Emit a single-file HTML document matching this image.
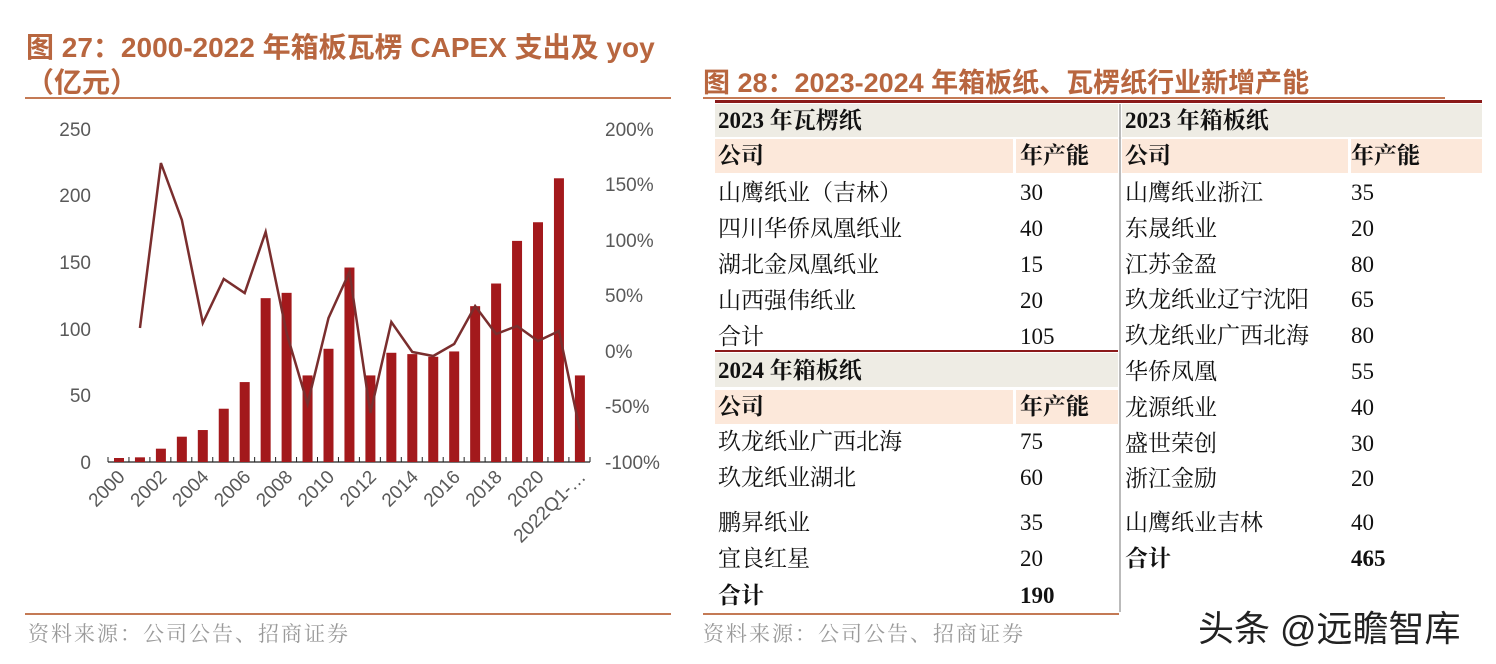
<!DOCTYPE html>
<html><head><meta charset="utf-8"><style>
body{margin:0;width:1496px;height:664px;background:#fff;position:relative;overflow:hidden;font-family:"Liberation Sans","Noto Sans CJK SC",sans-serif}
.a{position:absolute;white-space:nowrap}
.t{color:#b8663f;font-weight:bold;font-size:28px}
.s{font-family:"Liberation Serif","Noto Serif CJK SC",serif;font-size:23px;color:#111;line-height:34px}
.b{font-weight:bold}
.src{color:#9a9a9a;font-size:21px;letter-spacing:2px;font-family:"Liberation Serif","Noto Serif CJK SC",serif}
</style></head><body>
<div class="a t" style="left:26px;top:26px">图 27：2000-2022 年箱板瓦楞 CAPEX 支出及 yoy</div>
<div class="a t" style="left:26px;top:61px">（亿元）</div>
<div class="a" style="left:25px;top:97px;width:646px;height:2px;background:#c47a55"></div>
<div class="a t" style="left:703px;top:61px;font-size:27px">图 28：2023-2024 年箱板纸、瓦楞纸行业新增产能</div>
<div class="a" style="left:703px;top:97px;width:742px;height:2px;background:#c47a55"></div>
<div class="a" style="left:715px;top:100px;width:767px;height:3px;background:#8b1a1a"></div>

<svg class="a" style="left:0;top:0" width="700" height="620">
<g font-family="Liberation Sans,sans-serif" font-size="19" fill="#595959">
<g text-anchor="end">
<text x="91" y="136">250</text><text x="91" y="202">200</text><text x="91" y="269">150</text><text x="91" y="336">100</text><text x="91" y="402">50</text><text x="91" y="469">0</text>
</g>
<g text-anchor="start">
<text x="605" y="136">200%</text><text x="605" y="191">150%</text><text x="605" y="247">100%</text><text x="605" y="302">50%</text><text x="605" y="358">0%</text><text x="605" y="413">-50%</text><text x="605" y="469">-100%</text>
</g>
</g>
<line x1="108" y1="462" x2="590" y2="462" stroke="#222" stroke-width="1.2"/>
<g id="bars" fill="#a3191c"></g>
<g id="ticks" stroke="#222" stroke-width="1"></g>
<polyline id="ln" fill="none" stroke="#7a2e2e" stroke-width="2.5" points=""/>
<g id="xl" font-family="Liberation Sans,sans-serif" font-size="19" fill="#595959" text-anchor="end"></g>
</svg>
<script>
var v=[3,3.5,10,19,24,40,60,123,127,65,85,146,65,82,81,79,83,117,134,166,180,213,65];
var ly=[null,328,163,220,323,279,293,232,333,404,318,272,413,322,352,356,344,306,334,326,341,331,430];
var b='',t='',p=[],xl='';
for(var i=0;i<23;i++){var cx=119+i*20.95;var h=v[i]*1.332;
b+='<rect x="'+(cx-5)+'" y="'+(462-h)+'" width="10" height="'+h+'"/>';
var tx=108+i*20.95;t+='<line x1="'+tx+'" y1="457" x2="'+tx+'" y2="462"/>';
if(ly[i]!==null)p.push(cx+','+ly[i]);
if(i%2==0){var lab=i==22?'2022Q1-…':String(2000+i);xl+='<text transform="translate('+(cx+7)+',478) rotate(-45)">'+lab+'</text>';}}
t+='<line x1="590" y1="457" x2="590" y2="462"/>';
document.getElementById('bars').innerHTML=b;document.getElementById('ticks').innerHTML=t;
document.getElementById('ln').setAttribute('points',p.join(' '));document.getElementById('xl').innerHTML=xl;
</script>

<div class="a" style="left:715px;top:104px;width:403px;height:33px;background:#eeece4"></div>
<div class="a" style="left:1122px;top:104px;width:360px;height:33px;background:#eeece4"></div>
<div class="a" style="left:715px;top:139px;width:298px;height:34px;background:#fce8da"></div>
<div class="a" style="left:1016px;top:139px;width:102px;height:34px;background:#fce8da"></div>
<div class="a" style="left:1122px;top:139px;width:226px;height:34px;background:#fce8da"></div>
<div class="a" style="left:1351px;top:139px;width:131px;height:34px;background:#fce8da"></div>
<div class="a" style="left:715px;top:350px;width:403px;height:2px;background:#8b1a1a"></div>
<div class="a" style="left:715px;top:353px;width:403px;height:34px;background:#eeece4"></div>
<div class="a" style="left:715px;top:390px;width:298px;height:34px;background:#fce8da"></div>
<div class="a" style="left:1016px;top:390px;width:102px;height:34px;background:#fce8da"></div>
<div class="a" style="left:1119px;top:104px;width:2px;height:508px;background:#bbb"></div>

<div class="a s b" style="left:718px;top:104px">2023 年瓦楞纸</div>
<div class="a s b" style="left:1125px;top:104px">2023 年箱板纸</div>
<div class="a s b" style="left:718px;top:139px">公司</div><div class="a s b" style="left:1020px;top:139px">年产能</div>
<div class="a s b" style="left:1125px;top:139px">公司</div><div class="a s b" style="left:1351px;top:139px">年产能</div>

<div class="a s" style="left:718px;top:175px;line-height:36px">山鹰纸业（吉林）<br>四川华侨凤凰纸业<br>湖北金凤凰纸业<br>山西强伟纸业<br>合计</div>
<div class="a s" style="left:1020px;top:175px;line-height:36px">30<br>40<br>15<br>20<br>105</div>
<div class="a s b" style="left:718px;top:354px">2024 年箱板纸</div>
<div class="a s b" style="left:718px;top:390px">公司</div><div class="a s b" style="left:1020px;top:390px">年产能</div>
<div class="a s" style="left:718px;top:425px">玖龙纸业广西北海</div><div class="a s" style="left:1020px;top:425px">75</div>
<div class="a s" style="left:718px;top:461px">玖龙纸业湖北</div><div class="a s" style="left:1020px;top:461px">60</div>
<div class="a s" style="left:718px;top:506px">鹏昇纸业</div><div class="a s" style="left:1020px;top:506px">35</div>
<div class="a s" style="left:718px;top:542px">宜良红星</div><div class="a s" style="left:1020px;top:542px">20</div>
<div class="a s b" style="left:718px;top:579px">合计</div><div class="a s b" style="left:1020px;top:579px">190</div>

<div class="a s" style="left:1125px;top:175px;line-height:35.8px">山鹰纸业浙江<br>东晟纸业<br>江苏金盈<br>玖龙纸业辽宁沈阳<br>玖龙纸业广西北海<br>华侨凤凰<br>龙源纸业<br>盛世荣创<br>浙江金励</div>
<div class="a s" style="left:1351px;top:175px;line-height:35.8px">35<br>20<br>80<br>65<br>80<br>55<br>40<br>30<br>20</div>
<div class="a s" style="left:1125px;top:506px">山鹰纸业吉林</div><div class="a s" style="left:1351px;top:506px">40</div>
<div class="a s b" style="left:1125px;top:542px">合计</div><div class="a s b" style="left:1351px;top:542px">465</div>

<div class="a" style="left:25px;top:613px;width:646px;height:2px;background:#c47a55"></div>
<div class="a" style="left:703px;top:613px;width:416px;height:2px;background:#c47a55"></div>
<div class="a src" style="left:28px;top:618px">资料来源：公司公告、招商证券</div>
<div class="a src" style="left:703px;top:618px">资料来源：公司公告、招商证券</div>
<div class="a" style="left:1198px;top:600px;font-size:36px;color:#222">头条 @远瞻智库</div>
</body></html>
